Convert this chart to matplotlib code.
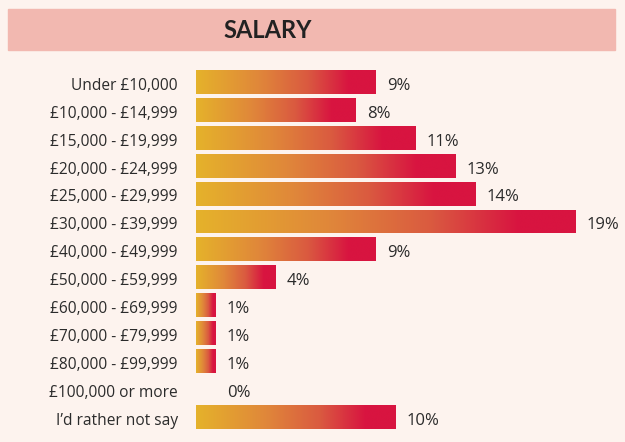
import numpy as np
import matplotlib
matplotlib.use("Agg")
import matplotlib.pyplot as plt
from matplotlib.colors import LinearSegmentedColormap
from matplotlib.patches import Rectangle

# salary bands and share of respondents (%)
categories = ["Under £10,000", "£10,000 - £14,999", "£15,000 - £19,999",
              "£20,000 - £24,999", "£25,000 - £29,999", "£30,000 - £39,999",
              "£40,000 - £49,999", "£50,000 - £59,999", "£60,000 - £69,999",
              "£70,000 - £79,999", "£80,000 - £99,999", "£100,000 or more",
              "I\u2019d rather not say"]
values = [9, 8, 11, 13, 14, 19, 9, 4, 1, 1, 1, 0, 10]
labels = ["9%", "8%", "11%", "13%", "14%", "19%", "9%", "4%", "1%", "1%", "1%", "0%", "10%"]

BG = "#fdf3ee"
TXT = "#2b2b2b"
grad = LinearSegmentedColormap.from_list(
    "sal", [(0, "#e5b22b"), (0.35, "#e0873a"), (0.62, "#da5a40"), (0.85, "#d81440"), (1, "#d81440")])

plt.rcParams['font.family'] = ['Open Sans', 'DejaVu Sans']

W, H = 625, 442
fig = plt.figure(figsize=(W / 100, H / 100), dpi=100, facecolor=BG)

# title band
fig.patches.append(Rectangle((8 / W, 1 - 50 / H), 607 / W, 41 / H,
                             transform=fig.transFigure, color="#f2b8b0", zorder=0))
fig.text(268 / W, 1 - 38 / H, "SALARY", ha="center", va="baseline",
         fontsize=17, fontweight="bold", color="#222222", family=["Lato", "DejaVu Sans"])

pitch = 27.9
top = 82 - pitch / 2
ax = fig.add_axes([196 / W, 1 - (top + 13 * pitch) / H, (615 - 196) / W, 13 * pitch / H])
ax.set_facecolor(BG)

y = np.arange(len(values))
bars = ax.barh(y, values, height=0.86, color="none", edgecolor="none")
g = np.linspace(0, 1, 256).reshape(1, -1)
for b, v in zip(bars, values):
    if v <= 0:
        continue
    x0, y0 = b.get_x(), b.get_y()
    im = ax.imshow(g, cmap=grad, aspect="auto", interpolation="bicubic",
                   extent=[x0, x0 + b.get_width(), y0 + b.get_height(), y0])
    im.set_clip_path(b)

for yi, v, lab in zip(y, values, labels):
    ax.text(max(v, 1) + 0.55, yi + 0.28, lab, va="baseline", ha="left", fontsize=12, color=TXT)
for yi, cat in zip(y, categories):
    ax.text(-0.9, yi + 0.28, cat, va="baseline", ha="right", fontsize=11.2, color=TXT, clip_on=False)

ax.set_xlim(0, (615 - 196) / 20)
ax.set_ylim(len(values) - 0.5, -0.5)
ax.set_xticks([])
ax.set_yticks([])
for s in ax.spines.values():
    s.set_visible(False)

fig.savefig("out.png", dpi=100, facecolor=BG)
